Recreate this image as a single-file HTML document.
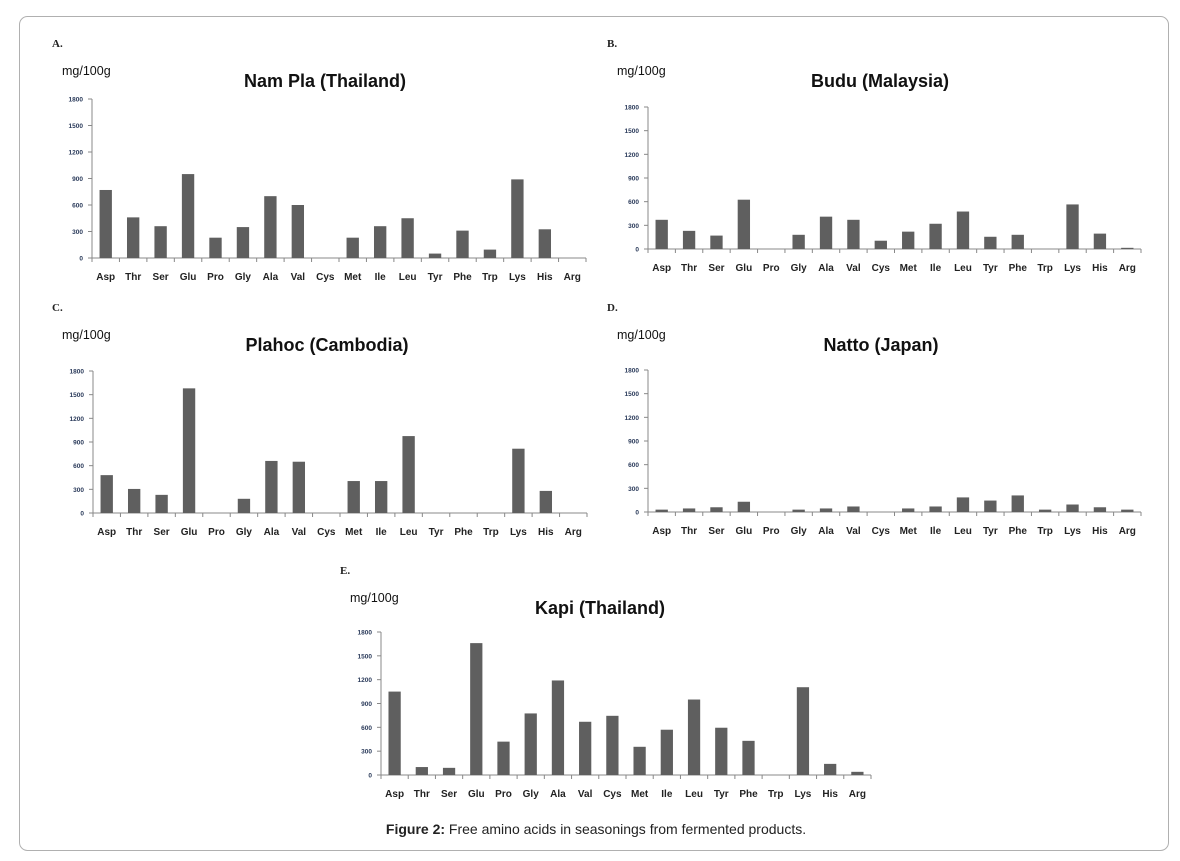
<!DOCTYPE html>
<html><head><meta charset="utf-8"><style>
body{margin:0;background:#fff;}
svg{display:block;}
</style></head><body>
<svg id="fig" width="1180" height="861" viewBox="0 0 1180 861" xmlns="http://www.w3.org/2000/svg">
<rect x="19.5" y="16.5" width="1149" height="834" rx="8" fill="#fff" stroke="#b0b0b0"/>
<text x="596" y="834" text-anchor="middle" font-family="Liberation Sans, sans-serif" font-size="14" fill="#222"><tspan font-weight="bold">Figure 2:</tspan> Free amino acids in seasonings from fermented products.</text>
</svg>
<script>
const categories = ["Asp","Thr","Ser","Glu","Pro","Gly","Ala","Val","Cys","Met","Ile","Leu","Tyr","Phe","Trp","Lys","His","Arg"];
const yTicks = [0,300,600,900,1200,1500,1800];
const namPlaValues = [770,460,360,950,230,350,700,600,0,230,360,450,50,310,95,890,325,0];
const buduValues = [370,230,170,625,0,180,410,370,105,220,320,475,155,180,0,565,195,15];
const plahocValues = [480,305,230,1580,0,180,660,650,0,405,405,975,0,0,0,815,280,0];
const nattoValues = [30,45,60,130,0,30,45,70,0,45,70,185,145,210,30,95,60,30];
const kapiValues = [1050,100,90,1660,420,775,1190,670,745,355,570,950,595,430,0,1105,140,40];

const NS = "http://www.w3.org/2000/svg";
const svg = document.getElementById('fig');
function mk(tag, attrs, parent){
  const e = document.createElementNS(NS, tag);
  for (const k in attrs) e.setAttribute(k, attrs[k]);
  (parent||svg).appendChild(e);
  return e;
}
const panels = [
  {id:"a", letter:"A.", title:"Nam Pla (Thailand)", values:namPlaValues, x0:92, x1:586, yTop:99, yBot:258, lx:52, ly:47, tx:325},
  {id:"b", letter:"B.", title:"Budu (Malaysia)", values:buduValues, x0:648, x1:1141, yTop:107, yBot:249, lx:607, ly:47, tx:880},
  {id:"c", letter:"C.", title:"Plahoc (Cambodia)", values:plahocValues, x0:93, x1:587, yTop:371, yBot:513, lx:52, ly:311, tx:327},
  {id:"d", letter:"D.", title:"Natto (Japan)", values:nattoValues, x0:648, x1:1141, yTop:370, yBot:512, lx:607, ly:311, tx:881},
  {id:"e", letter:"E.", title:"Kapi (Thailand)", values:kapiValues, x0:381, x1:871, yTop:632, yBot:775, lx:340, ly:574, tx:600}
];
panels.forEach(p=>{
  const g = mk('g', {});
  
  
  const yMax = 1800;
  const yS = v => p.yBot - (v / yMax) * (p.yBot - p.yTop);
  const step = (p.x1 - p.x0) / categories.length;
  const xS = i => p.x0 + step * (i + 0.5);
  let t = mk('text', {x:p.lx, y:p.ly, 'font-family':'Liberation Serif, serif', 'font-weight':'bold', 'font-size':11, fill:'#222'}, g);
  t.textContent = p.letter;
  
  
  t = mk('text', {x:p.lx+10, y:p.ly+28, 'font-family':'Liberation Sans, sans-serif', 'font-size':12.5, fill:'#111'}, g);
  t.textContent = 'mg/100g';
  
  
  t = mk('text', {x:p.tx, y:p.ly+40, 'text-anchor':'middle', 'font-family':'Liberation Sans, sans-serif', 'font-weight':'bold', 'font-size':18, fill:'#111'}, g);
  t.textContent = p.title;
  
  
  // y axis
  let a = mk('line', {x1:p.x0, y1:p.yTop, x2:p.x0, y2:p.yBot, stroke:'#888', 'stroke-width':1}, g);
  
  
  yTicks.forEach(v=>{
    mk('line', {x1:p.x0-4, y1:yS(v), x2:p.x0, y2:yS(v), stroke:'#888'}, g);
    const tl = mk('text', {x:p.x0-9, y:yS(v)+2.5, 'text-anchor':'end', 'font-family':'Liberation Sans, sans-serif', 'font-size':6.5, 'font-weight':'bold', fill:'#2a3a5a'}, g);
    tl.textContent = v;
    
    
  });
  a = mk('line', {x1:p.x0, y1:p.yBot, x2:p.x1, y2:p.yBot, stroke:'#888'}, g);
  
  
  for (let i=0;i<=categories.length;i++){
    mk('line', {x1:p.x0+step*i, y1:p.yBot, x2:p.x0+step*i, y2:p.yBot+4, stroke:'#888'}, g);
  }
  const bw = step*0.45;
  categories.forEach((c,i)=>{
    const v = p.values[i];
    const r = mk('rect', {x:xS(i)-bw/2, y:yS(v), width:bw, height:Math.max(0,p.yBot-yS(v)), fill:'#5f5f5f'}, g);
    
    
    const cl = mk('text', {x:xS(i), y:p.yBot+22, 'text-anchor':'middle', 'font-family':'Liberation Sans, sans-serif', 'font-size':10, 'font-weight':'bold', fill:'#222'}, g);
    cl.textContent = c;
    
    
  });
});
</script>
</body></html>
